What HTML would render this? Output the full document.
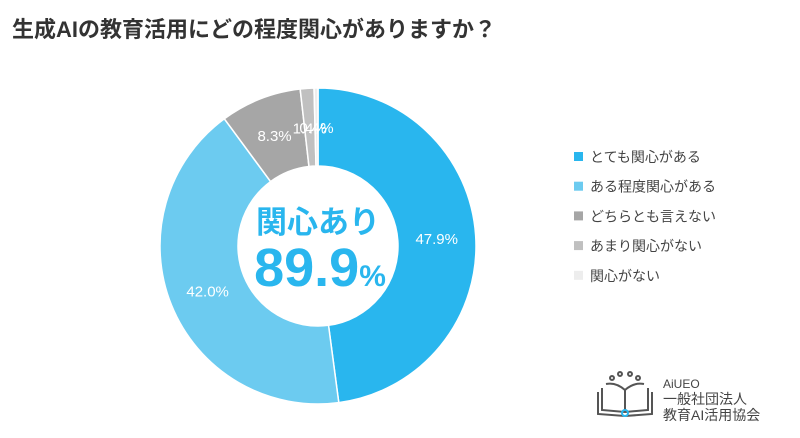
<!DOCTYPE html>
<html><head><meta charset="utf-8"><style>
html,body{margin:0;padding:0;background:#fff;width:800px;height:438px;overflow:hidden}
svg{display:block;font-family:"Liberation Sans","Noto Sans CJK JP",sans-serif}
</style></head><body>
<svg id="c" width="800" height="438" viewBox="0 0 800 438">
<text x="12" y="37" font-size="22" font-weight="bold" fill="#333">生成AIの教育活用にどの程度関心がありますか？</text>
<g id="slices"></g>
<g id="labels"></g>
<text x="318" y="233" text-anchor="middle" font-size="31" font-weight="bold" fill="#29b6ee">関心あり</text>
<text x="320" y="286" text-anchor="middle" font-size="54" font-weight="bold" fill="#29b6ee">89.9<tspan font-size="30">%</tspan></text>
<g id="legend"></g>
<g stroke="#555" stroke-width="2" fill="none">
<path d="M598 392 L598 414 L625 416 L652 414 L652 392" />
<path d="M602 388 L602 410 L625 412 L648 410 L648 388" />
<path d="M606 384 Q616 382 625 390 Q634 382 644 384" />
<line x1="625" y1="390" x2="625" y2="410"/>
<circle cx="625" cy="413" r="3" stroke="#29b6ee"/>
<circle cx="612" cy="378" r="2"/><circle cx="620" cy="374" r="2"/><circle cx="630" cy="374" r="2"/><circle cx="638" cy="378" r="2"/>
</g>
<text x="663" y="388" font-size="12" fill="#444">AiUEO</text>
<text x="663" y="404" font-size="14" fill="#444">一般社団法人</text>
<text x="663" y="420" font-size="14" fill="#444">教育AI活用協会</text>
</svg>
<script>
const categories=["とても関心がある","ある程度関心がある","どちらとも言えない","あまり関心がない","関心がない"];
const values=[47.9,42.0,8.3,1.4,0.4];
const colors=["#29b6ee","#6ccbf0","#a6a6a6","#c0c0c0","#ededed"];
const NS="http://www.w3.org/2000/svg";
const cx=318,cy=246,R=158,r=80;
const total=values.reduce((a,b)=>a+b,0);
function pt(rad,a){return [cx+rad*Math.sin(a),cy-rad*Math.cos(a)];}
const gs=document.getElementById('slices'),gl=document.getElementById('labels'),lg=document.getElementById('legend');
let acc=0;
values.forEach((v,i)=>{
 const a0=acc/total*2*Math.PI;acc+=v;const a1=acc/total*2*Math.PI;
 const lf=(a1-a0)>Math.PI?1:0;
 const [x0,y0]=pt(R,a0),[x1,y1]=pt(R,a1),[x2,y2]=pt(r,a1),[x3,y3]=pt(r,a0);
 const p=document.createElementNS(NS,'path');
 p.setAttribute('d',`M${x0} ${y0}A${R} ${R} 0 ${lf} 1 ${x1} ${y1}L${x2} ${y2}A${r} ${r} 0 ${lf} 0 ${x3} ${y3}Z`);
 p.setAttribute('fill',colors[i]);p.setAttribute('stroke','#fff');p.setAttribute('stroke-width','1.5');
 
 
 gs.appendChild(p);
 const [lx,ly]=pt((R+r)/2,(a0+a1)/2);
 const t=document.createElementNS(NS,'text');
 t.setAttribute('x',lx);t.setAttribute('y',ly+6);t.setAttribute('text-anchor','middle');
 t.setAttribute('font-size','15');t.setAttribute('fill','#fff');
 t.textContent=v.toFixed(1)+'%';
 
 
 gl.appendChild(t);
 const g=document.createElementNS(NS,'g');
 
 
 const y=157+i*29.7;
 const s=document.createElementNS(NS,'rect');
 s.setAttribute('x',574);s.setAttribute('y',y-5);s.setAttribute('width',9);s.setAttribute('height',9);s.setAttribute('fill',colors[i]);
 const tt=document.createElementNS(NS,'text');
 tt.setAttribute('x',590);tt.setAttribute('y',y+5);tt.setAttribute('font-size','14');tt.setAttribute('fill','#444');
 tt.textContent=categories[i];
 g.appendChild(s);g.appendChild(tt);lg.appendChild(g);
});
</script>
</body></html>
